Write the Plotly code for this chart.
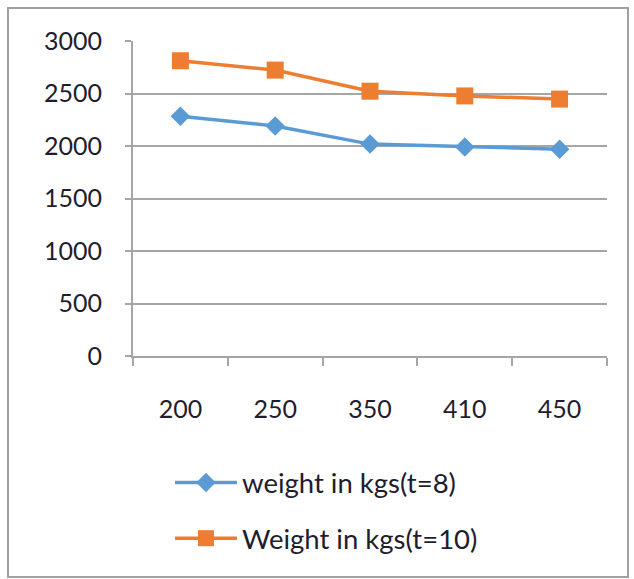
import plotly.graph_objects as go

categories = ["200", "250", "350", "410", "450"]
weight_t8 = [2284, 2190, 2018, 1990, 1970]
weight_t10 = [2812, 2723, 2522, 2477, 2447]
y_ticks = [0, 500, 1000, 1500, 2000, 2500, 3000]

FONT = "Lato"
TXT = "#1e1e2e"
GRID = "#a6a6a6"

fig = go.Figure()
fig.add_trace(go.Scatter(
    x=categories, y=weight_t8, mode="lines+markers", name="weight in kgs(t=8)",
    line=dict(color="#5b9bd5", width=3.5),
    marker=dict(symbol="diamond", size=15, color="#5b9bd5"),
    legendgroup="a",
))
fig.add_trace(go.Scatter(
    x=categories, y=weight_t10, mode="lines+markers", name="Weight in kgs(t=10)",
    line=dict(color="#ed7d31", width=3.5),
    marker=dict(symbol="square", size=17, color="#ed7d31"),
    legendgroup="b",
))

fig.update_layout(
    width=634, height=579,
    margin=dict(l=133, r=27, t=41, b=223),
    paper_bgcolor="white", plot_bgcolor="white",
    font=dict(family=FONT, size=25, color=TXT),
    showlegend=True,
    legend=dict(
        x=0.078, y=-0.324, xanchor="left", yanchor="top",
        orientation="v", tracegroupgap=17, itemwidth=62,
        font=dict(family=FONT, size=27.5, color=TXT),
        bgcolor="rgba(0,0,0,0)",
    ),
    xaxis=dict(
        type="category", range=[-0.5, 4.5],
        showline=True, linecolor=GRID, linewidth=2,
        ticks="outside", ticklen=8, tickcolor=GRID, tickwidth=2,
        tickson="boundaries", showgrid=False, zeroline=False,
        ticklabelstandoff=30,
    ),
    yaxis=dict(
        range=[0, 3000], tickvals=y_ticks,
        showline=True, linecolor=GRID, linewidth=2,
        ticks="outside", ticklen=6, tickcolor=GRID, tickwidth=2,
        showgrid=True, gridcolor=GRID, gridwidth=1.5, zeroline=False,
        ticklabelstandoff=18,
    ),
    shapes=[dict(
        type="rect", xref="paper", yref="paper",
        x0=(8 - 133) / 474, x1=(628 - 133) / 474,
        y0=(356 - 577) / 315, y1=(356 - 8) / 315,
        line=dict(color="#a0a0a0", width=2), layer="below",
    )],
)

fig.write_html(
    "out.html",
    config={"displayModeBar": False},
    post_script="document.body.style.margin='0';document.body.style.overflow='hidden';",
)
